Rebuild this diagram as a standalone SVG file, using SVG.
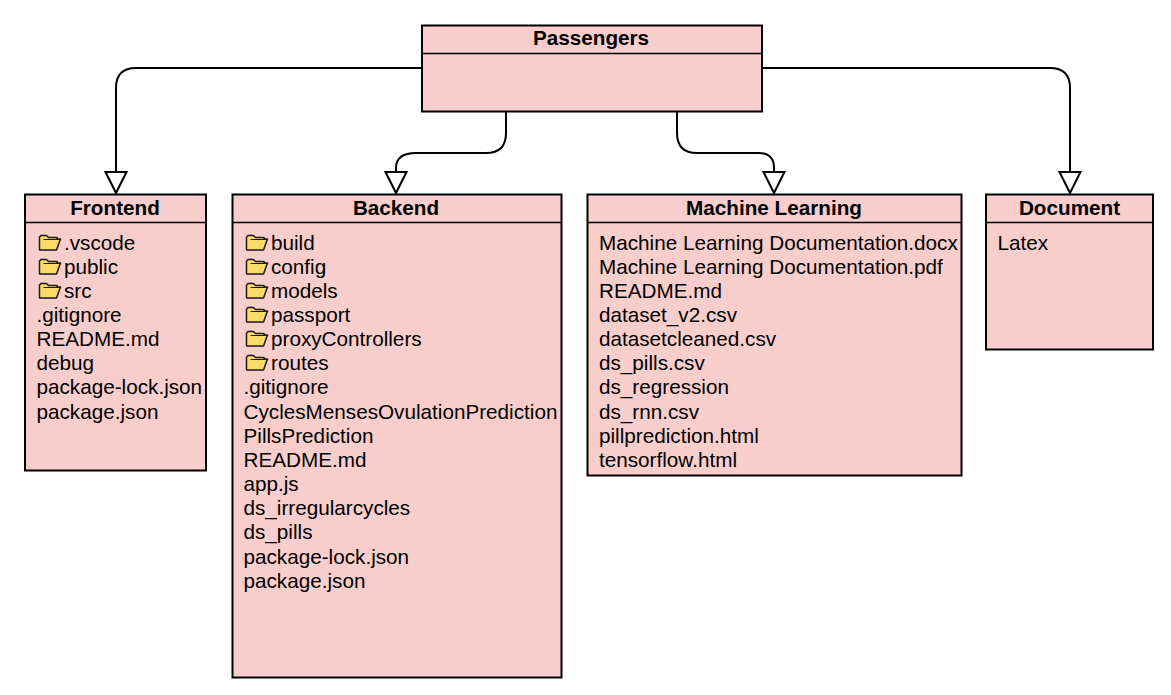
<svg xmlns="http://www.w3.org/2000/svg" width="1171" height="695" viewBox="0 0 1171 695">
<style>
.box{fill:#f8cecc;stroke:#000;stroke-width:2}
.div{stroke:#000;stroke-width:1.5;fill:none}
.title{font:bold 20.7px "Liberation Sans",Arial,sans-serif;text-anchor:middle;fill:#000}
.t{font:20.7px "Liberation Sans",Arial,sans-serif;fill:#000}
.conn{fill:none;stroke:#000;stroke-width:2}
.arrow{fill:#fff;stroke:#000;stroke-width:2}
.folder{fill:#ffd966;stroke:#1a1a1a;stroke-width:1.5;stroke-linejoin:round}
</style>
<defs>
<g id="fold"><path class="folder" d="M0.500 15V2L2 0.500H7.500L9.500 2.500H18V4H21.500L17.500 15Z"/><path d="M4.500 4.500H21.500" stroke="#1a1a1a" stroke-width="1" fill="none"/></g>
</defs>
<g id="connectors">
<path class="conn" d="M422 68H136Q116 68 116 88V172"/>
<path class="conn" d="M506 111V133Q506 153 486 153H416Q396 153 396 168V172"/>
<path class="conn" d="M677 111V133Q677 153 697 153H759Q774 153 774 168V172"/>
<path class="conn" d="M762 68H1050Q1070 68 1070 88V172"/>
<path class="arrow" d="M105.500 172H126.500L116 193Z"/>
<path class="arrow" d="M385.500 172H406.500L396 193Z"/>
<path class="arrow" d="M763.500 172H784.500L774 193Z"/>
<path class="arrow" d="M1059.500 172H1080.500L1070 193Z"/>
</g>
<g id="passengers">
<rect class="box" x="422" y="25.500" width="340" height="86"/><path class="div" d="M422 53.500H762"/>
<text class="title" x="591" y="45">Passengers</text>
</g>
<g id="frontend">
<rect class="box" x="25" y="194.500" width="181" height="276"/><path class="div" d="M25 222.500H206"/>
<text class="title" x="115" y="215">Frontend</text>
<use href="#fold" x="39" y="235"/><use href="#fold" x="39" y="259"/><use href="#fold" x="39" y="283"/>
<text class="t" x="64" y="250">.vscode</text><text class="t" x="64" y="274">public</text><text class="t" x="64" y="298">src</text>
<text class="t" x="36.500" y="322">.gitignore</text><text class="t" x="36.500" y="346">README.md</text><text class="t" x="36.500" y="370">debug</text><text class="t" x="36.500" y="394">package-lock.json</text><text class="t" x="36.500" y="419">package.json</text>
</g>
<g id="backend">
<rect class="box" x="232.500" y="194.500" width="329" height="483"/><path class="div" d="M232.500 222.500H561.500"/>
<text class="title" x="396" y="215">Backend</text>
<use href="#fold" x="246" y="235"/><use href="#fold" x="246" y="259"/><use href="#fold" x="246" y="283"/><use href="#fold" x="246" y="307"/><use href="#fold" x="246" y="331"/><use href="#fold" x="246" y="355"/>
<text class="t" x="271" y="250">build</text><text class="t" x="271" y="274">config</text><text class="t" x="271" y="298">models</text><text class="t" x="271" y="322">passport</text><text class="t" x="271" y="346">proxyControllers</text><text class="t" x="271" y="370">routes</text>
<text class="t" x="243.500" y="394">.gitignore</text><text class="t" x="243.500" y="419">CyclesMensesOvulationPrediction</text><text class="t" x="243.500" y="443">PillsPrediction</text><text class="t" x="243.500" y="467">README.md</text><text class="t" x="243.500" y="491">app.js</text><text class="t" x="243.500" y="515">ds_irregularcycles</text><text class="t" x="243.500" y="539">ds_pills</text><text class="t" x="243.500" y="564">package-lock.json</text><text class="t" x="243.500" y="588">package.json</text>
</g>
<g id="machine-learning">
<rect class="box" x="587.500" y="194.500" width="374" height="281"/><path class="div" d="M587.500 222.500H961.500"/>
<text class="title" x="774" y="215">Machine Learning</text>
<text class="t" x="599" y="250">Machine Learning Documentation.docx</text><text class="t" x="599" y="274">Machine Learning Documentation.pdf</text><text class="t" x="599" y="298">README.md</text><text class="t" x="599" y="322">dataset_v2.csv</text><text class="t" x="599" y="346">datasetcleaned.csv</text><text class="t" x="599" y="370">ds_pills.csv</text><text class="t" x="599" y="394">ds_regression</text><text class="t" x="599" y="419">ds_rnn.csv</text><text class="t" x="599" y="443">pillprediction.html</text><text class="t" x="599" y="467">tensorflow.html</text>
</g>
<g id="document">
<rect class="box" x="986" y="194.500" width="167" height="155"/><path class="div" d="M986 222.500H1153"/>
<text class="title" x="1069.500" y="215">Document</text>
<text class="t" x="997.500" y="250">Latex</text>
</g>
</svg>
